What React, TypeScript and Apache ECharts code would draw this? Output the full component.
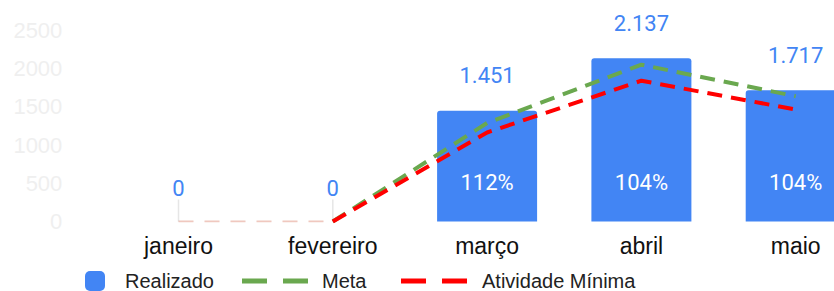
import React, { useEffect, useRef } from 'react';
import * as echarts from 'echarts';

const categories = ['janeiro', 'fevereiro', 'março', 'abril', 'maio'];
const realizado = [0, 0, 1451, 2137, 1717];
const meta = [0, 0, 1290, 2052, 1640];
const atividadeMinima = [0, 0, 1165, 1843, 1465];
const percentual = [null, null, 112, 104, 104];
const yMin = 0;
const yMax = 2500;
const yInterval = 500;

const BLUE = '#4285f4';
const GREEN = '#6aa84f';
const RED = '#ff0000';
const SANS = '"Liberation Sans", Arial, sans-serif';
const ROBOTO = 'Roboto, "Liberation Sans", sans-serif';
const DASH_ICON = 'path://M0,0h25v5h-25z M41,0h25v5h-25z';

function fmt(v: number): string {
  return String(v).replace(/\B(?=(\d{3})+(?!\d))/g, '.');
}

export default function App() {
  const ref = useRef<HTMLDivElement>(null);
  useEffect(() => {
    if (!ref.current) return;
    const chart = echarts.init(ref.current, undefined, { renderer: 'svg' });
    const legendBase = (gap: number) => ({
      top: 271,
      padding: 0,
      itemHeight: 20,
      itemStyle: { borderWidth: 0 },
      selectedMode: false,
      formatter: (name: string) => '{g|}' + name,
      textStyle: {
        fontFamily: SANS,
        fontSize: 20,
        lineHeight: 20,
        color: '#222',
        rich: { g: { width: gap, height: 20 } },
      },
    });
    chart.setOption({
      animation: false,
      grid: { left: 101.35, right: 27.15, top: 30.5, bottom: 88.5, containLabel: false },
      legend: [
        {
          ...legendBase(15),
          data: [{ name: 'Realizado', icon: 'roundRect' }],
          left: 85,
          itemWidth: 20,
        },
        {
          ...legendBase(9),
          data: [{ name: 'Meta', icon: DASH_ICON }],
          left: 242,
          itemWidth: 66,
          itemHeight: 5,
        },
        {
          ...legendBase(10),
          data: [{ name: 'Atividade Mínima', icon: DASH_ICON }],
          left: 401,
          itemWidth: 66,
          itemHeight: 5,
        },
      ],
      xAxis: {
        type: 'category',
        data: categories,
        axisLine: { show: false },
        axisTick: { show: false },
        axisLabel: { fontFamily: SANS, fontSize: 23, color: '#111', margin: 13 },
      },
      yAxis: {
        type: 'value',
        min: yMin,
        max: yMax,
        interval: yInterval,
        splitLine: { show: false },
        axisLine: { show: false },
        axisTick: { show: false },
        axisLabel: {
          fontFamily: SANS,
          fontSize: 22,
          color: '#efefef',
          margin: 39,
          formatter: (v: number) => String(v),
        },
      },
      series: [
        {
          name: 'Realizado',
          type: 'bar',
          barWidth: 100,
          color: BLUE,
          itemStyle: { color: BLUE, borderRadius: [3, 3, 0, 0] },
          data: realizado.map((v) =>
            v === 0
              ? {
                  value: v,
                  label: { distance: 3 },
                  labelLine: { show: true, lineStyle: { color: '#e6e6e6', width: 1.5 } },
                }
              : v
          ),
          label: {
            show: true,
            position: 'top',
            distance: 24,
            fontFamily: ROBOTO,
            fontSize: 22,
            color: BLUE,
            formatter: (p: any) => fmt(p.value),
          },
          labelLayout: (p: any) => (realizado[p.dataIndex] === 0 ? { dy: -19 } : {}),
          z: 2,
        },
        {
          name: 'pct',
          type: 'bar',
          barWidth: 100,
          barGap: '-100%',
          silent: true,
          itemStyle: { color: 'rgba(0,0,0,0)' },
          data: realizado,
          label: {
            show: true,
            position: 'insideBottom',
            distance: 28,
            fontFamily: ROBOTO,
            fontSize: 22,
            color: '#ffffff',
            formatter: (p: any) =>
              percentual[p.dataIndex] != null ? percentual[p.dataIndex] + '%' : '',
          },
          z: 3,
        },
        {
          name: 'metaBase',
          type: 'line',
          data: meta.map((v, i) => (i <= 1 ? v : null)),
          symbol: 'none',
          lineStyle: { color: GREEN, width: 2, type: [15, 11], opacity: 0.12 },
          z: 4,
        },
        {
          name: 'minBase',
          type: 'line',
          data: atividadeMinima.map((v, i) => (i <= 1 ? v : null)),
          symbol: 'none',
          lineStyle: { color: RED, width: 2, type: [15, 11], opacity: 0.18 },
          z: 4,
        },
        {
          name: 'Meta',
          type: 'line',
          color: GREEN,
          itemStyle: { color: GREEN },
          data: meta.map((v, i) => (i >= 1 ? v : null)),
          symbol: 'none',
          lineStyle: { color: GREEN, width: 4, type: [15, 9] },
          z: 5,
        },
        {
          name: 'Atividade Mínima',
          type: 'line',
          color: RED,
          itemStyle: { color: RED },
          data: atividadeMinima.map((v, i) => (i >= 1 ? v : null)),
          symbol: 'none',
          lineStyle: { color: RED, width: 4, type: [15, 9] },
          z: 6,
        },
      ],
    });
    return () => chart.dispose();
  }, []);
  return (
    <div
      style={{
        position: 'absolute',
        left: 0,
        top: 0,
        width: 834,
        height: 291,
        overflow: 'hidden',
        background: '#fff',
      }}
    >
      <div ref={ref} style={{ width: 900, height: 310 }} />
    </div>
  );
}
